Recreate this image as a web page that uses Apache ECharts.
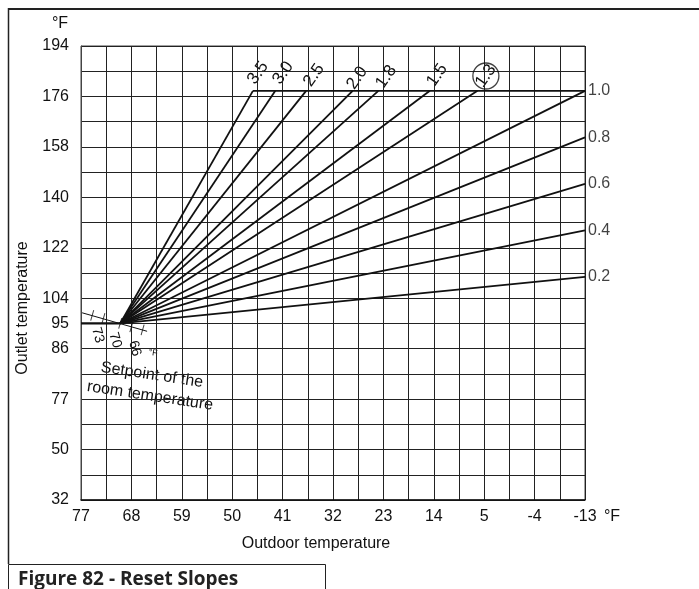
<!DOCTYPE html>
<html>
<head>
<meta charset="utf-8">
<script src="https://cdn.jsdelivr.net/npm/echarts@6/dist/echarts.min.js"></script>
<style>
html, body { margin: 0; padding: 0; background: #fff; }
#chart { width: 699px; height: 589px; }
</style>
</head>
<body>
<div id="chart"></div>
<script>
// grid starts at 77 °F outdoor / 32 °F outlet, one cell = 4.5 °F x 9 °F
const X_START = 77
const Y_START = 32

const xTickLabels = ['77', '68', '59', '50', '41', '32', '23', '14', '5', '-4', '-13']
const yTickValues = [194, 176, 158, 140, 122, 104, 95, 86, 68, 50, 32]
const yTickLabels = ['194', '176', '158', '140', '122', '104', '95', '86', '77', '50', '32']

// reset curves, all from the 70 °F / 95 °F point
const origin = [70, 95]
const slopeNames = ['3.5', '3.0', '2.5', '2.0', '1.8', '1.5', '1.3', '1.0', '0.8', '0.6', '0.4', '0.2']
const slopeEndOutdoor = [46.3, 42.3, 36.8, 28.5, 23.9, 14.7, 6.2, -13, -13, -13, -13, -13]
const slopeEndOutlet = [178, 178, 178, 178, 178, 178, 178, 178, 161.4, 144.8, 128.2, 111.6]

// where the names of the steep curves sit
const topLabelOutdoor = [45.4, 40.9, 35.4, 27.7, 22.5, 13.4, 4.7]
const topLabelOutlet = [184.4, 184.4, 183.6, 182.6, 183, 183.6, 183.3]

// max outlet limit
const limitOutdoor = [46.3, -13]
const limitOutlet = 178

// room setpoint scale
const scaleOutdoor = [76.8, 65.2]
const scaleOutlet = [98.8, 92.2]
const scaleTickOutdoor = [75, 73, 70, 68, 66]
const scaleTickOutlet = [97.9, 96.8, 95, 93.8, 92.7]
const scaleLabels = ['73', '70', '66']
const scaleLabelOutdoor = [74.0, 70.9, 67.4]
const scaleLabelOutlet = [90.8, 89, 86.1]

const FONT = '"Liberation Sans", Arial, sans-serif'
const INK = '#111'

const xy = (t, T) => [X_START - t, T - Y_START]

const lineSeries = (data, width) => ({
  type: 'line',
  data: data,
  symbol: 'none',
  silent: true,
  lineStyle: { color: INK, width: width }
})

const textEl = (x, y, text, size, rotation, extra) => ({
  type: 'text',
  silent: true,
  x: x,
  y: y,
  rotation: rotation || 0,
  style: Object.assign({
    text: text,
    font: size + 'px ' + FONT,
    fill: INK,
    textAlign: 'center',
    textVerticalAlign: 'middle'
  }, extra || {})
})

const chart = echarts.init(document.getElementById('chart'))

const option = {
  animation: false,
  backgroundColor: '#fff',
  grid: {
    left: 81,
    right: 114,
    top: 46,
    bottom: 89,
    show: true,
    borderColor: '#444',
    borderWidth: 1
  },
  xAxis: {
    type: 'value',
    min: 0,
    max: 90,
    interval: 4.5,
    axisLine: { lineStyle: { color: INK, width: 1.5 } },
    axisTick: { show: false },
    splitLine: { lineStyle: { color: '#222', width: 1 } },
    axisLabel: {
      color: INK,
      fontSize: 16,
      fontFamily: FONT,
      margin: 9,
      showMinLabel: true,
      showMaxLabel: true,
      formatter: v => (v % 9 === 0 ? xTickLabels[v / 9] : '')
    }
  },
  yAxis: {
    type: 'value',
    min: 0,
    max: 162,
    interval: 9,
    axisLine: { show: true, lineStyle: { color: '#444', width: 1 } },
    axisTick: { show: false },
    splitLine: { lineStyle: { color: '#222', width: 1 } },
    axisLabel: {
      color: INK,
      fontSize: 16,
      fontFamily: FONT,
      margin: 12,
      showMinLabel: true,
      showMaxLabel: true,
      formatter: v => {
        const i = yTickValues.indexOf(v + Y_START)
        return i >= 0 ? yTickLabels[i] : ''
      }
    }
  },
  series: [
    ...slopeNames.map((n, i) =>
      lineSeries([xy(origin[0], origin[1]), xy(slopeEndOutdoor[i], slopeEndOutlet[i])], 1.8)
    ),
    lineSeries([xy(limitOutdoor[0], limitOutlet), xy(limitOutdoor[1], limitOutlet)], 1.8),
    lineSeries([xy(X_START, origin[1]), xy(origin[0], origin[1])], 2.2),
    lineSeries([xy(scaleOutdoor[0], scaleOutlet[0]), xy(scaleOutdoor[1], scaleOutlet[1])], 1),
    {
      type: 'scatter',
      silent: true,
      data: scaleTickOutdoor.map((t, i) => xy(t, scaleTickOutlet[i])),
      symbol: 'rect',
      symbolSize: [1, 11],
      symbolRotate: -16,
      itemStyle: { color: INK }
    },
    {
      // names of the flat curves, at the right edge
      type: 'scatter',
      silent: true,
      symbolSize: 0,
      data: slopeNames.slice(7).map((n, i) => ({
        name: n,
        value: xy(slopeEndOutdoor[7 + i], slopeEndOutlet[7 + i])
      })),
      label: {
        show: true,
        position: 'right',
        distance: 3,
        formatter: p => p.name,
        color: INK,
        fontSize: 16,
        fontFamily: FONT
      }
    },
    {
      // circle round the 1.3 curve
      type: 'scatter',
      silent: true,
      data: [xy(topLabelOutdoor[6], topLabelOutlet[6])],
      symbol: 'circle',
      symbolSize: 26,
      itemStyle: { color: 'rgba(0,0,0,0)', borderColor: INK, borderWidth: 1.3 }
    }
  ],
  graphic: [
    { type: 'line', silent: true, shape: { x1: 8, y1: 9, x2: 699, y2: 9 }, style: { stroke: '#222', lineWidth: 2 } },
    { type: 'line', silent: true, shape: { x1: 8.5, y1: 8, x2: 8.5, y2: 564 }, style: { stroke: '#222', lineWidth: 1.5 } },
    { type: 'rect', silent: true, shape: { x: 8.5, y: 564.5, width: 317, height: 40 }, style: { fill: '#fff', stroke: '#222', lineWidth: 1 } },
    {
      type: 'text', silent: true, x: 18, y: 580,
      style: { text: 'Figure 82 - Reset Slopes', font: 'bold 19px "Open Sans", Lato, sans-serif', fill: '#222', textVerticalAlign: 'middle' }
    },
    textEl(60, 24, '°F', 16),
    textEl(612, 517, '°F', 16),
    textEl(316, 544, 'Outdoor temperature', 16),
    textEl(23, 308, 'Outlet temperature', 16, Math.PI / 2),
    textEl(153, 353, '°F', 9, -0.15),
    textEl(152, 375, 'Setpoint of the', 16, -0.15),
    textEl(150, 396, 'room temperature', 16, -0.15)
  ]
}

chart.setOption(option)

// rotated curve names, placed through the grid's own scales
const toPx = p => chart.convertToPixel({ gridIndex: 0 }, p)
const extraText = []
topLabelOutdoor.forEach((t, i) => {
  const p = toPx(xy(t, topLabelOutlet[i]))
  extraText.push(textEl(p[0], p[1], slopeNames[i], 17, (55 * Math.PI) / 180))
})
scaleLabels.forEach((n, i) => {
  const p = toPx(xy(scaleLabelOutdoor[i], scaleLabelOutlet[i]))
  extraText.push(textEl(p[0], p[1], n, 14, (-74 * Math.PI) / 180))
})
chart.setOption({ graphic: option.graphic.concat(extraText) })

window.addEventListener('resize', () => chart.resize())
</script>
</body>
</html>
